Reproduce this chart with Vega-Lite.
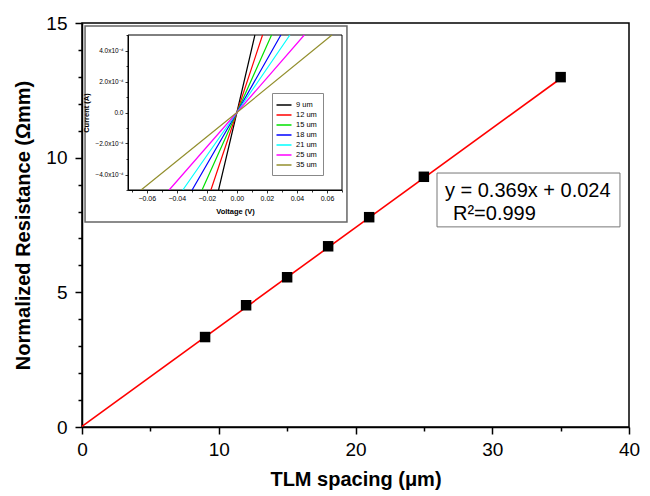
{
  "$schema": "https://vega.github.io/schema/vega-lite/v6.json",
  "width": 547,
  "height": 404,
  "autosize": "none",
  "padding": {"left": 82, "top": 23, "right": 21, "bottom": 69},
  "background": "#ffffff",
  "config": {
    "font": "Liberation Sans",
    "view": {"stroke": "#000000", "strokeWidth": 1.5},
    "axis": {"domainColor": "#000000", "tickColor": "#000000", "labelColor": "#000000", "titleColor": "#000000", "grid": false, "labelFont": "Liberation Sans", "titleFont": "Liberation Sans"}
  },
  "datasets": {
    "tlm": [
      {"x": 9, "y": 3.34},
      {"x": 12, "y": 4.52},
      {"x": 15, "y": 5.56},
      {"x": 18, "y": 6.71},
      {"x": 21, "y": 7.79},
      {"x": 25, "y": 9.29},
      {"x": 35, "y": 12.99}
    ],
    "fit": [
      {"x": 0, "y": 0.024},
      {"x": 35, "y": 12.94}
    ],
    "fitbox": [
      {"x": 25.96, "x2": 39.34, "y": 9.43, "y2": 7.43}
    ],
    "fitlabel": [
      {"label": "y = 0.369x + 0.024", "x": 26.54, "y": 8.54},
      {"label": "R²=0.999", "x": 27.13, "y": 7.69}
    ],
    "insetpanel": [
      {"V": -0.1011, "V2": 0.0733, "I": 0.000558, "I2": -0.000706}
    ],
    "insetframe": [
      {"V": -0.0725, "V2": 0.07, "I": 0.0005, "I2": -0.0005}
    ],
    "iv": [
      {"series": "9 um", "V": -0.0122, "I": -0.0005},
      {"series": "9 um", "V": 0, "I": 0},
      {"series": "9 um", "V": 0.0120, "I": 0.0005},
      {"series": "12 um", "V": -0.0173, "I": -0.0005},
      {"series": "12 um", "V": 0, "I": 0},
      {"series": "12 um", "V": 0.0171, "I": 0.0005},
      {"series": "15 um", "V": -0.0232, "I": -0.0005},
      {"series": "15 um", "V": 0, "I": 0},
      {"series": "15 um", "V": 0.0231, "I": 0.0005},
      {"series": "18 um", "V": -0.0298, "I": -0.0005},
      {"series": "18 um", "V": 0, "I": 0},
      {"series": "18 um", "V": 0.0293, "I": 0.0005},
      {"series": "21 um", "V": -0.0360, "I": -0.0005},
      {"series": "21 um", "V": 0, "I": 0},
      {"series": "21 um", "V": 0.0353, "I": 0.0005},
      {"series": "25 um", "V": -0.0451, "I": -0.0005},
      {"series": "25 um", "V": 0, "I": 0},
      {"series": "25 um", "V": 0.0449, "I": 0.0005},
      {"series": "35 um", "V": -0.0638, "I": -0.0005},
      {"series": "35 um", "V": 0, "I": 0},
      {"series": "35 um", "V": 0.0633, "I": 0.0005}
    ]
  },
  "layer": [
    {
      "encoding": {
        "x": {
          "field": "x", "type": "quantitative",
          "scale": {"domain": [0, 40], "nice": false, "zero": false},
          "axis": {
            "orient": "bottom",
            "values": [0, 5, 10, 15, 20, 25, 30, 35, 40],
            "labelExpr": "datum.value % 10 === 0 ? datum.label : ''",
            "tickSize": {"condition": {"test": "datum.value % 10 === 0", "value": 7}, "value": 4},
            "tickWidth": 1.5, "domainWidth": 1.5,
            "labelFontSize": 19, "labelPadding": 6, "labelFlush": false, "labelOverlap": false,
            "title": "TLM spacing (μm)",
            "titleFontSize": 20, "titleFontWeight": "bold", "titlePadding": 10
          }
        },
        "y": {
          "field": "y", "type": "quantitative",
          "scale": {"domain": [0, 15], "nice": false, "zero": false},
          "axis": {
            "orient": "left",
            "values": [0, 1, 2, 3, 4, 5, 6, 7, 8, 9, 10, 11, 12, 13, 14, 15],
            "labelExpr": "datum.value % 5 === 0 ? datum.label : ''",
            "tickSize": {"condition": {"test": "datum.value % 5 === 0", "value": 7}, "value": 4},
            "tickWidth": 1.5, "domainWidth": 1.5,
            "labelFontSize": 19, "labelPadding": 8, "labelFlush": false, "labelOverlap": false,
            "title": "Normalized Resistance (Ωmm)",
            "titleFontSize": 20, "titleFontWeight": "bold", "titlePadding": 12
          }
        }
      },
      "layer": [
        {"data": {"name": "fit"}, "mark": {"type": "line", "color": "#ff0000", "strokeWidth": 1.6}},
        {"data": {"name": "tlm"}, "mark": {"type": "point", "shape": "square", "filled": true, "color": "#000000", "opacity": 1, "size": 110}},
        {
          "data": {"name": "fitbox"},
          "mark": {"type": "rect", "fill": "#ffffff", "stroke": "#777777", "strokeWidth": 1},
          "encoding": {"x2": {"field": "x2"}, "y2": {"field": "y2"}}
        },
        {
          "data": {"name": "fitlabel"},
          "mark": {"type": "text", "align": "left", "baseline": "alphabetic", "fontSize": 20, "color": "#000000"},
          "encoding": {"text": {"field": "label", "type": "nominal"}}
        }
      ]
    },
    {
      "encoding": {
        "x": {
          "field": "V", "type": "quantitative",
          "scale": {"domain": [-0.0725, 0.07], "range": [46, 260], "nice": false, "zero": false},
          "axis": {
            "orient": "bottom", "offset": -237, "zindex": 2,
            "values": [-0.07, -0.06, -0.05, -0.04, -0.03, -0.02, -0.01, 0, 0.01, 0.02, 0.03, 0.04, 0.05, 0.06, 0.07],
            "labelExpr": "abs(round(datum.value * 100)) % 2 === 0 ? format(datum.value, '.2f') : ''",
            "tickSize": {"condition": {"test": "abs(round(datum.value * 100)) % 2 === 0", "value": 3}, "value": 2},
            "tickWidth": 0.8, "domainWidth": 1,
            "labelFontSize": 7, "labelPadding": 1, "labelFlush": false, "labelOverlap": false,
            "title": "Voltage (V)",
            "titleFontSize": 7.5, "titleFontWeight": "bold", "titlePadding": 6
          }
        },
        "y": {
          "field": "I", "type": "quantitative",
          "scale": {"domain": [-0.0005, 0.0005], "range": [167, 12], "nice": false, "zero": false},
          "axis": {
            "orient": "left", "offset": -46, "zindex": 2,
            "values": [-0.0005, -0.0004, -0.0003, -0.0002, -0.0001, 0, 0.0001, 0.0002, 0.0003, 0.0004, 0.0005],
            "labelExpr": "datum.value === 0 ? '0.0' : (abs(round(datum.value * 10000)) % 2 === 0 && abs(round(datum.value * 10000)) < 5 ? format(datum.value * 10000, '.1f') + 'x10⁻⁴' : '')",
            "tickSize": {"condition": {"test": "abs(round(datum.value * 10000)) % 2 === 0 && abs(round(datum.value * 10000)) < 5", "value": 3}, "value": 2},
            "tickWidth": 0.8, "domainWidth": 1,
            "labelFontSize": 6.5, "labelPadding": 2, "labelFlush": false, "labelOverlap": false,
            "title": "Current (A)",
            "titleFontSize": 7.5, "titleFontWeight": "bold", "titlePadding": 4
          }
        }
      },
      "layer": [
        {
          "data": {"name": "insetpanel"},
          "mark": {"type": "rect", "fill": "#ffffff", "stroke": "#666666", "strokeWidth": 1.5},
          "encoding": {"x2": {"field": "V2"}, "y2": {"field": "I2"}}
        },
        {
          "data": {"name": "insetframe"},
          "mark": {"type": "rect", "fillOpacity": 0, "stroke": "#000000", "strokeWidth": 1},
          "encoding": {"x2": {"field": "V2"}, "y2": {"field": "I2"}}
        },
        {
          "data": {"name": "iv"},
          "mark": {"type": "line", "strokeWidth": 1.2},
          "encoding": {
            "color": {
              "field": "series", "type": "nominal",
              "scale": {
                "domain": ["9 um", "12 um", "15 um", "18 um", "21 um", "25 um", "35 um"],
                "range": ["#000000", "#ff0000", "#00e000", "#0000ff", "#00ffff", "#ff00ff", "#938f2e"]
              },
              "legend": {
                "orient": "none", "legendX": 190, "legendY": 70,
                "title": null,
                "labelFontSize": 7.5, "labelColor": "#000000", "labelFont": "Liberation Sans",
                "symbolType": "M-1.5,0H1.5", "symbolSize": 100, "symbolStrokeWidth": 1.5,
                "strokeColor": "#888888", "fillColor": "#ffffff", "padding": 6,
                "rowPadding": 0, "labelOffset": 6
              }
            }
          }
        }
      ]
    }
  ],
  "resolve": {
    "scale": {"x": "independent", "y": "independent"},
    "axis": {"x": "independent", "y": "independent"}
  }
}
